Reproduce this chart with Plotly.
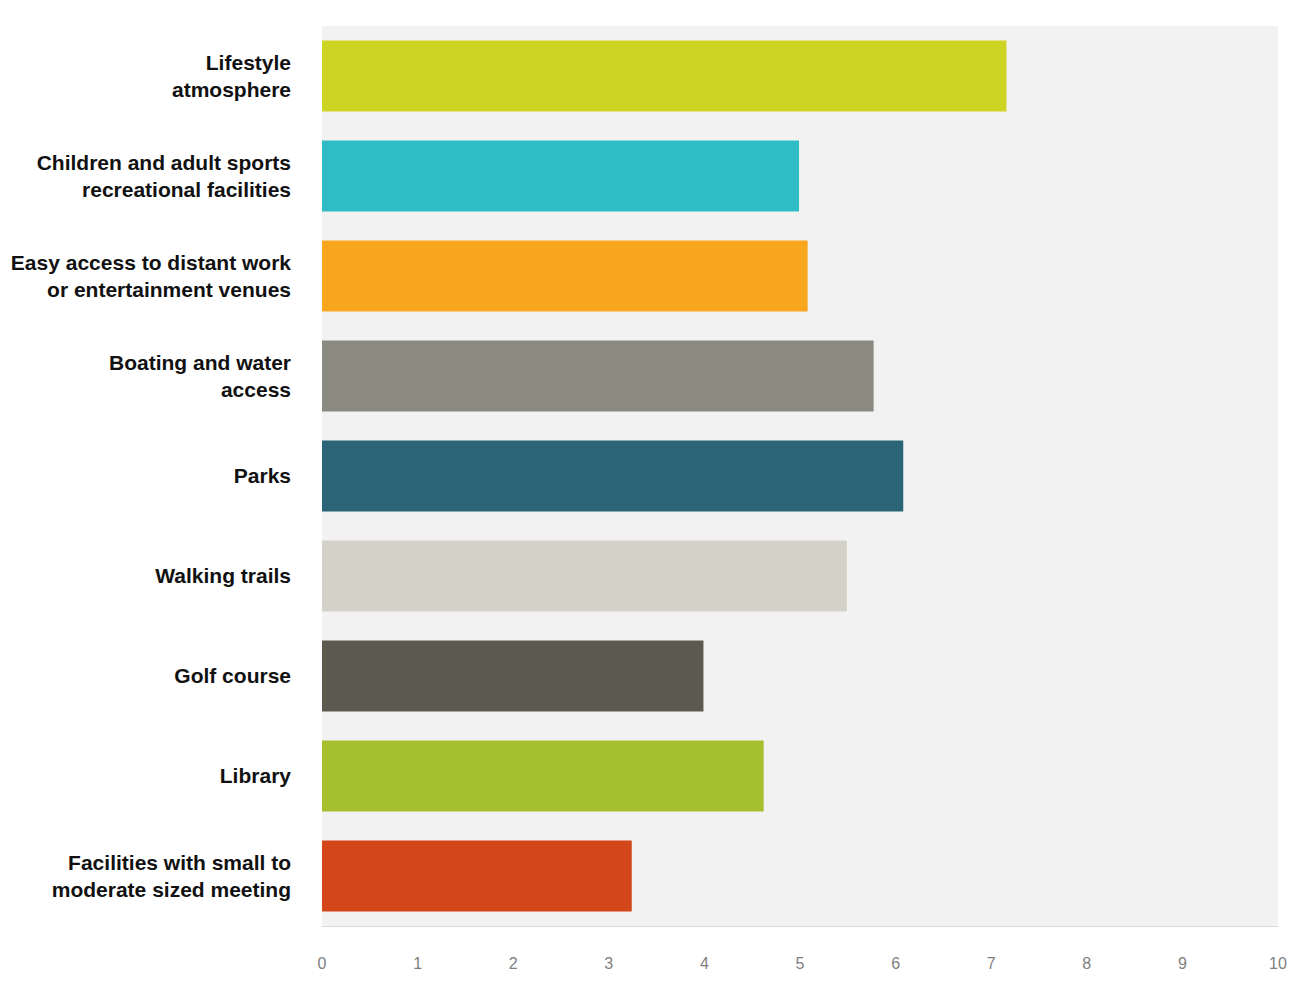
import plotly.graph_objects as go

categories = [
    "Lifestyle<br>atmosphere",
    "Children and adult sports<br>recreational facilities",
    "Easy access to distant work<br>or entertainment venues",
    "Boating and water<br>access",
    "Parks",
    "Walking trails",
    "Golf course",
    "Library",
    "Facilities with small to<br>moderate sized meeting",
]
values = [7.16, 4.99, 5.08, 5.77, 6.08, 5.49, 3.99, 4.62, 3.24]
colors = ["#cdd424", "#2fbcc4", "#f7a61e", "#8a8a80", "#2b6477",
          "#d4d2c8", "#5c5a4e", "#a6bf2c", "#d2461a"]
tick_vals = list(range(0, 11))

fig = go.Figure(go.Bar(
    x=values, y=categories, orientation="h",
    marker=dict(color=colors, line=dict(width=0)),
    hoverinfo="x+y",
))

fig.update_layout(
    width=1298, height=997,
    margin=dict(l=314, r=28, t=18, b=79),
    paper_bgcolor="white",
    plot_bgcolor="#f2f2f2",
    bargap=0.29,
    showlegend=False,
    font=dict(family="Liberation Sans"),
)
fig.update_xaxes(
    range=[0, 10], tickvals=tick_vals, showgrid=False, zeroline=False,
    showline=True, linecolor="#dcdcdc", linewidth=1, automargin=False,
    tickfont=dict(size=16, color="#808080", family="Liberation Sans"),
    ticks="", ticklabelstandoff=23,
)
fig.update_yaxes(
    autorange="reversed", showgrid=False, zeroline=False, automargin=False,
    tickfont=dict(size=21, color="#111111", family="Liberation Sans"),
    ticks="", ticklabelstandoff=30,
    ticktext=["<b>" + c.replace("<br>", "</b><br><b>") + "</b>" for c in categories],
    tickvals=categories,
)

fig.write_html("out.html")
